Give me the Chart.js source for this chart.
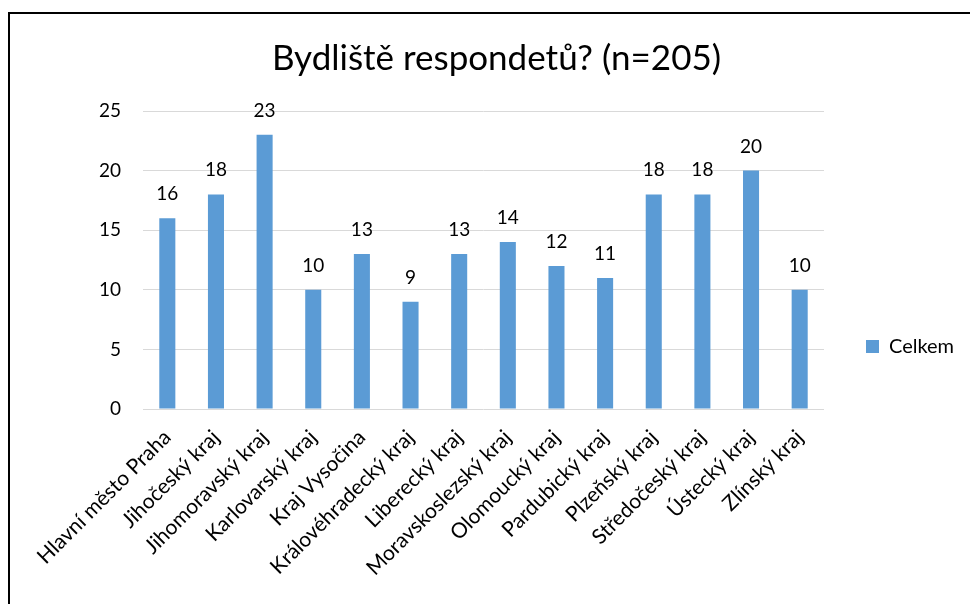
<!DOCTYPE html>
<html>
<head>
<meta charset="utf-8">
<script src="https://cdn.jsdelivr.net/npm/chart.js@4.4.1/dist/chart.umd.min.js"></script>
<style>
  html, body { margin: 0; padding: 0; background: #fff; overflow: hidden; }
  .frame {
    position: absolute; left: 8px; top: 12px;
    width: 990px; height: 700px;
    border: 2px solid #000;
  }
  canvas { display: block; }
</style>
</head>
<body>
<div class="frame">
  <canvas id="chart" width="960" height="665"></canvas>
</div>
<script>
/* data */
const regions = [
  "Hlavní město Praha", "Jihočeský kraj", "Jihomoravský kraj", "Karlovarský kraj",
  "Kraj Vysočina", "Královéhradecký kraj", "Liberecký kraj", "Moravskoslezský kraj",
  "Olomoucký kraj", "Pardubický kraj", "Plzeňský kraj", "Středočeský kraj",
  "Ústecký kraj", "Zlínský kraj"
];
const celkem = [16, 18, 23, 10, 13, 9, 13, 14, 12, 11, 18, 18, 20, 10];
const yTicks = [0, 5, 10, 15, 20, 25];

const FONT = "Lato";

/* value labels above bars */
const valueLabels = {
  id: "valueLabels",
  afterDatasetsDraw(chart) {
    const ctx = chart.ctx;
    const meta = chart.getDatasetMeta(0);
    ctx.save();
    ctx.font = "19px " + FONT;
    ctx.fillStyle = "#000";
    ctx.textAlign = "center";
    ctx.textBaseline = "alphabetic";
    meta.data.forEach((bar, i) => {
      ctx.fillText(celkem[i], bar.x, bar.y - 18);
    });
    ctx.restore();
  }
};

new Chart(document.getElementById("chart"), {
  type: "bar",
  data: {
    labels: regions,
    datasets: [{
      label: "Celkem",
      data: celkem,
      backgroundColor: "#5B9BD5",
      borderWidth: 0,
      categoryPercentage: 1,
      barPercentage: 0.33
    }]
  },
  options: {
    responsive: false,
    animation: false,
    devicePixelRatio: 1,
    layout: { padding: { left: 29, right: 16, top: 0, bottom: 0 } },
    plugins: {
      title: {
        display: true,
        text: "Bydliště respondetů? (n=205)",
        color: "#000",
        font: { family: FONT, size: 35, weight: "normal", lineHeight: 1.2 },
        padding: { top: 24, bottom: 31 }
      },
      legend: {
        position: "right",
        maxWidth: 130,
        labels: {
          boxWidth: 13,
          boxHeight: 13,
          padding: 42,
          color: "#000",
          font: { family: FONT, size: 20 }
        }
      },
      tooltip: { enabled: false }
    },
    scales: {
      x: {
        grid: { display: false },
        border: { display: false },
        ticks: {
          color: "#000",
          font: { family: FONT, size: 21 },
          maxRotation: 45,
          minRotation: 45,
          autoSkip: false,
          padding: 8
        },
        afterFit(scale) { scale.height = 270; }
      },
      y: {
        min: 0,
        max: 25,
        afterBuildTicks(scale) { scale.ticks = yTicks.map(v => ({ value: v })); },
        grid: { color: "#D9D9D9", lineWidth: 1, drawTicks: false },
        border: { display: false },
        ticks: {
          color: "#000",
          font: { family: FONT, size: 19 },
          padding: 22
        },
        afterFit(scale) { scale.width = 104; }
      }
    }
  },
  plugins: [valueLabels]
});
</script>
</body>
</html>
